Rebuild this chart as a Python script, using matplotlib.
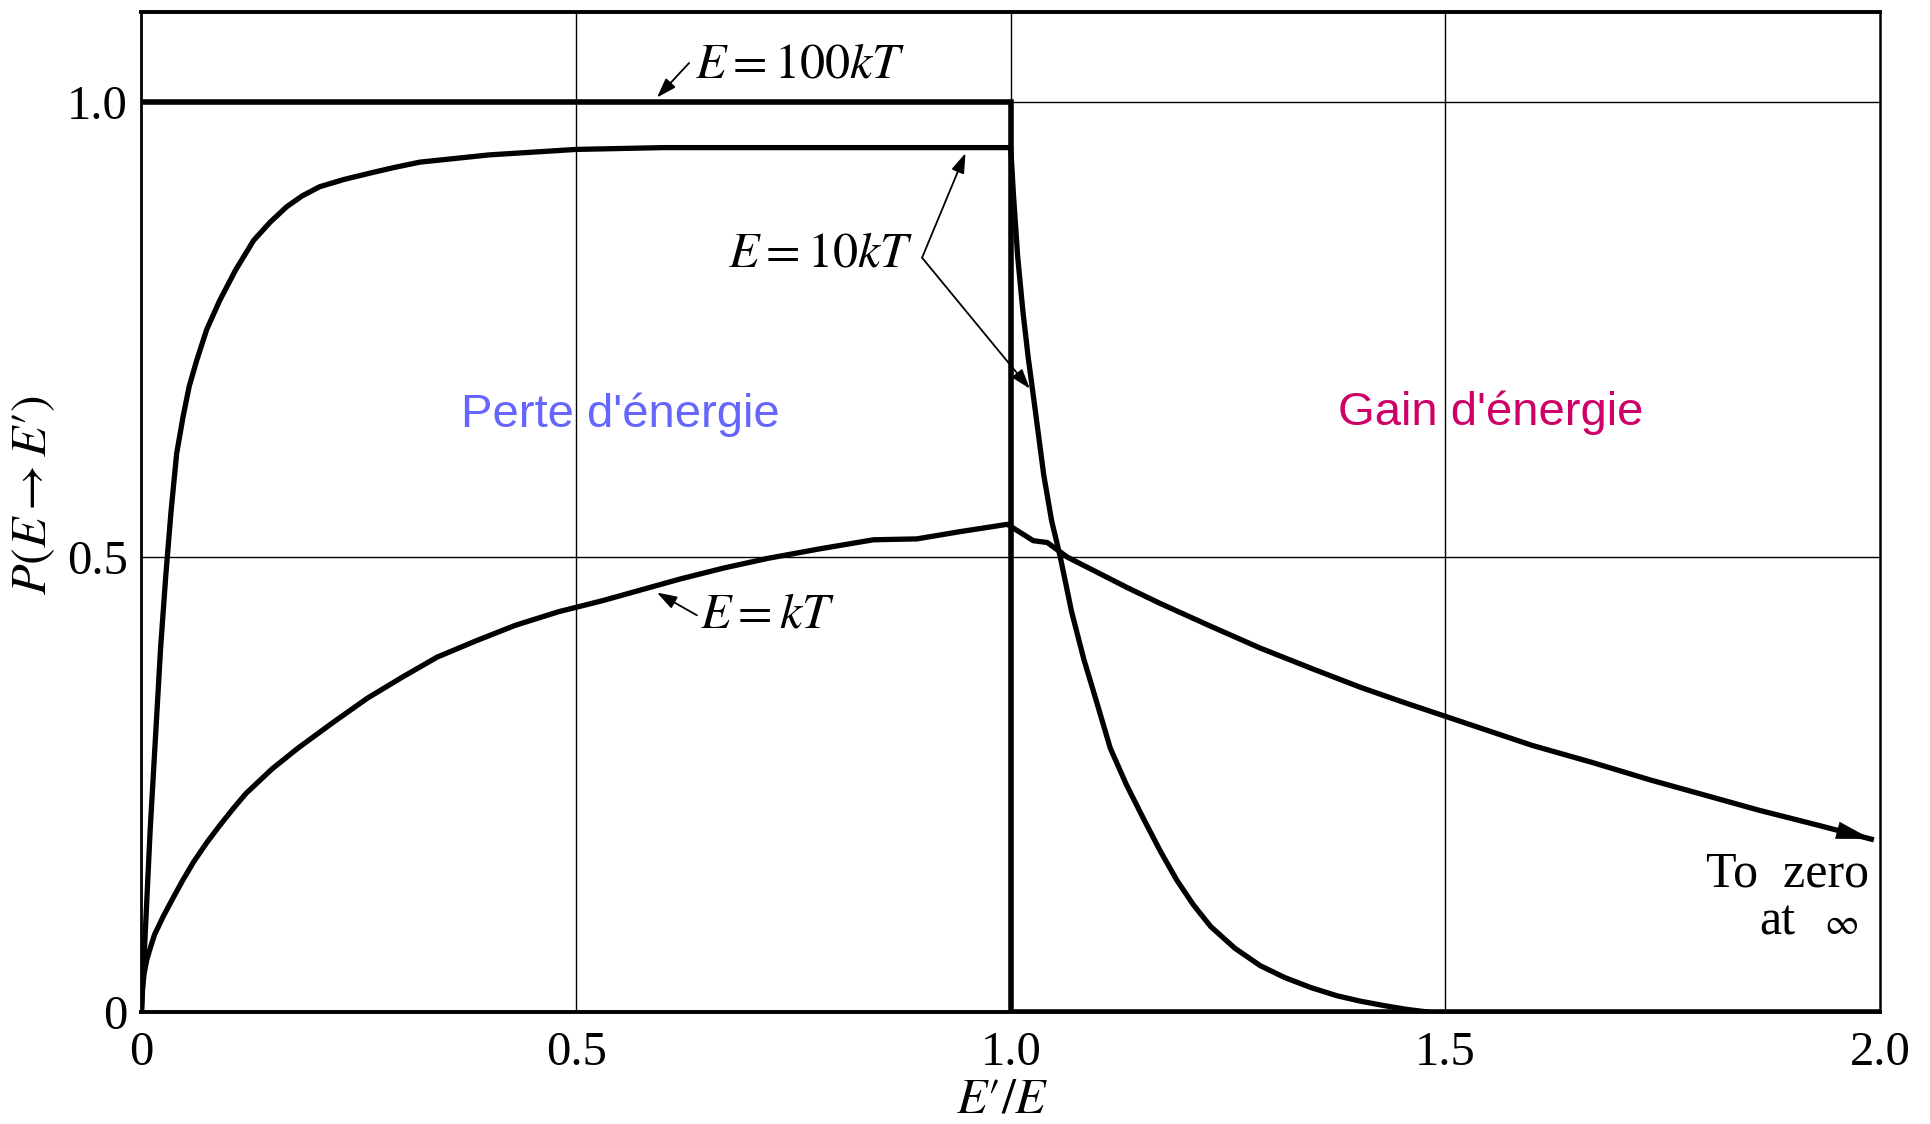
import matplotlib
matplotlib.use("Agg")
import matplotlib.pyplot as plt

matplotlib.rcParams["font.family"] = "serif"
matplotlib.rcParams["font.serif"] = ["Liberation Serif", "DejaVu Serif"]
matplotlib.rcParams["mathtext.fontset"] = "stix"

# P(E -> E') against E'/E
e100_x = [0.0, 1.0, 1.0, 2.0]
e100_y = [1.0, 1.0, 0.0, 0.0]

e10_x = [0.0, 0.003, 0.006, 0.010, 0.016, 0.022, 0.028, 0.034, 0.0405, 0.048, 0.055,
         0.0635, 0.075, 0.09, 0.108, 0.129, 0.148, 0.167, 0.185, 0.205, 0.233, 0.263,
         0.29, 0.32, 0.36, 0.40, 0.45, 0.50, 0.60, 1.0,
         1.003, 1.008, 1.014, 1.02, 1.027, 1.038, 1.047, 1.057, 1.07, 1.084, 1.10,
         1.1145, 1.133, 1.153, 1.172, 1.191, 1.21, 1.23, 1.258, 1.287, 1.315, 1.345,
         1.375, 1.402, 1.43, 1.455, 1.48]
e10_y = [0.0, 0.06, 0.12, 0.20, 0.30, 0.40, 0.48, 0.55, 0.614, 0.655, 0.688,
         0.716, 0.75, 0.782, 0.815, 0.848, 0.868, 0.885, 0.897, 0.907, 0.915, 0.922,
         0.928, 0.934, 0.938, 0.942, 0.945, 0.948, 0.95, 0.95,
         0.90, 0.83, 0.77, 0.72, 0.67, 0.59, 0.54, 0.50, 0.44, 0.388, 0.337,
         0.29, 0.25, 0.212, 0.177, 0.145, 0.118, 0.094, 0.07, 0.051, 0.038, 0.027,
         0.018, 0.012, 0.007, 0.003, 0.0]

ekt_x = [0.0, 0.001, 0.003, 0.006, 0.010, 0.015, 0.025, 0.035, 0.047, 0.06, 0.075,
         0.09, 0.105, 0.12, 0.15, 0.18, 0.22, 0.26, 0.30, 0.34, 0.385, 0.43, 0.48,
         0.53, 0.575, 0.62, 0.67, 0.72, 0.78, 0.842, 0.892, 0.942, 0.996,
         1.026, 1.042, 1.065, 1.10, 1.135, 1.172, 1.23, 1.287, 1.345, 1.402, 1.45,
         1.50, 1.55, 1.60, 1.67, 1.736, 1.80, 1.86, 1.93, 1.99]
ekt_y = [0.0, 0.025, 0.042, 0.057, 0.07, 0.085, 0.105, 0.123, 0.144, 0.165, 0.186,
         0.205, 0.223, 0.24, 0.267, 0.29, 0.318, 0.345, 0.368, 0.39, 0.408, 0.425, 0.44,
         0.452, 0.464, 0.476, 0.488, 0.4985, 0.509, 0.519, 0.52, 0.528, 0.536,
         0.518, 0.516, 0.50, 0.483, 0.466, 0.449, 0.424, 0.40, 0.378, 0.357, 0.341,
         0.325, 0.309, 0.293, 0.274, 0.255, 0.238, 0.222, 0.205, 0.19]

xticks = [0, 0.5, 1.0, 1.5, 2.0]
xtick_labels = ["0", "0.5", "1.0", "1.5", "2.0"]
yticks = [0, 0.5, 1.0]
ytick_labels = ["0", "0.5", "1.0"]

fig = plt.figure(figsize=(19.30, 11.24), dpi=100)
ax = fig.add_axes([0.0733, 0.0996, 0.9008, 0.8897])
ax.set_xlim(0, 2.0)
ax.set_ylim(0, 1.099)

# grid
for gx in xticks[1:-1]:
    ax.axvline(gx, color="black", lw=1.0, zorder=1)
for gy in yticks[1:]:
    ax.axhline(gy, color="black", lw=1.0, zorder=1)

ax.plot(e100_x, e100_y, color="black", lw=4, solid_joinstyle="miter", zorder=3)
ax.plot(e10_x, e10_y, color="black", lw=3.8, solid_joinstyle="round", zorder=3)
ax.plot(ekt_x, ekt_y, color="black", lw=3.8, solid_joinstyle="round", zorder=3)
ax.annotate("", xy=(ekt_x[-1], ekt_y[-1]), xytext=(ekt_x[-2], ekt_y[-2]),
            arrowprops=dict(arrowstyle="-|>,head_length=1.2,head_width=0.3",
                            color="black", lw=0.5, mutation_scale=20,
                            shrinkA=0, shrinkB=0), zorder=4)

small = dict(arrowstyle="-|>,head_length=0.6,head_width=0.2", color="black",
             lw=1.3, mutation_scale=20, shrinkA=0, shrinkB=0)

# E = 100kT
ax.annotate("", xy=(0.593, 1.005), xytext=(0.630, 1.043), arrowprops=small)
ax.text(0.637, 1.040, "$E=100kT$", fontsize=36, ha="left", va="center")

# E = 10kT, two arrows from one vertex
ax.text(0.888, 0.833, "$E=10kT$", fontsize=36, ha="right", va="center")
ax.annotate("", xy=(0.948, 0.944), xytext=(0.898, 0.829), arrowprops=small)
ax.annotate("", xy=(1.022, 0.685), xytext=(0.898, 0.829), arrowprops=small)

# E = kT
ax.annotate("", xy=(0.593, 0.461), xytext=(0.639, 0.436), arrowprops=small)
ax.text(0.643, 0.436, "$E=kT$", fontsize=36, ha="left", va="center")

ax.text(0.5506, 0.6425, "Perte d'énergie", fontsize=34, color="#6666FF",
        family="Liberation Sans", ha="center", va="baseline")
ax.text(1.5518, 0.645, "Gain d'énergie", fontsize=34, color="#CC0066",
        family="Liberation Sans", ha="center", va="baseline")

ax.text(1.8935, 0.1377, "To  zero", fontsize=36, ha="center", va="baseline")
ax.text(1.882, 0.0857, "at", fontsize=36, ha="center", va="baseline")
ax.text(1.955, 0.0857, "$\\infty$", fontsize=27, ha="center", va="baseline")

ax.set_xticks(xticks)
ax.set_xticklabels(xtick_labels)
ax.set_yticks(yticks)
ax.set_yticklabels(ytick_labels)
ax.tick_params(axis="both", length=0, labelsize=35)
ax.tick_params(axis="x", pad=14)
ax.tick_params(axis="y", pad=10)

ax.set_xlabel("$E\u2032/E$", fontsize=36, va="center")
ax.xaxis.set_label_coords(0.495, -0.088)
ax.set_ylabel("$P(E\\rightarrow E\u2032)$", fontsize=36, va="center")
ax.yaxis.set_label_coords(-0.0618, 0.517)

ax.spines["left"].set_linewidth(2.0)
ax.spines["bottom"].set_linewidth(2.8)
ax.spines["top"].set_linewidth(2.8)
ax.spines["right"].set_linewidth(1.8)

fig.savefig("out.png", dpi=100)
